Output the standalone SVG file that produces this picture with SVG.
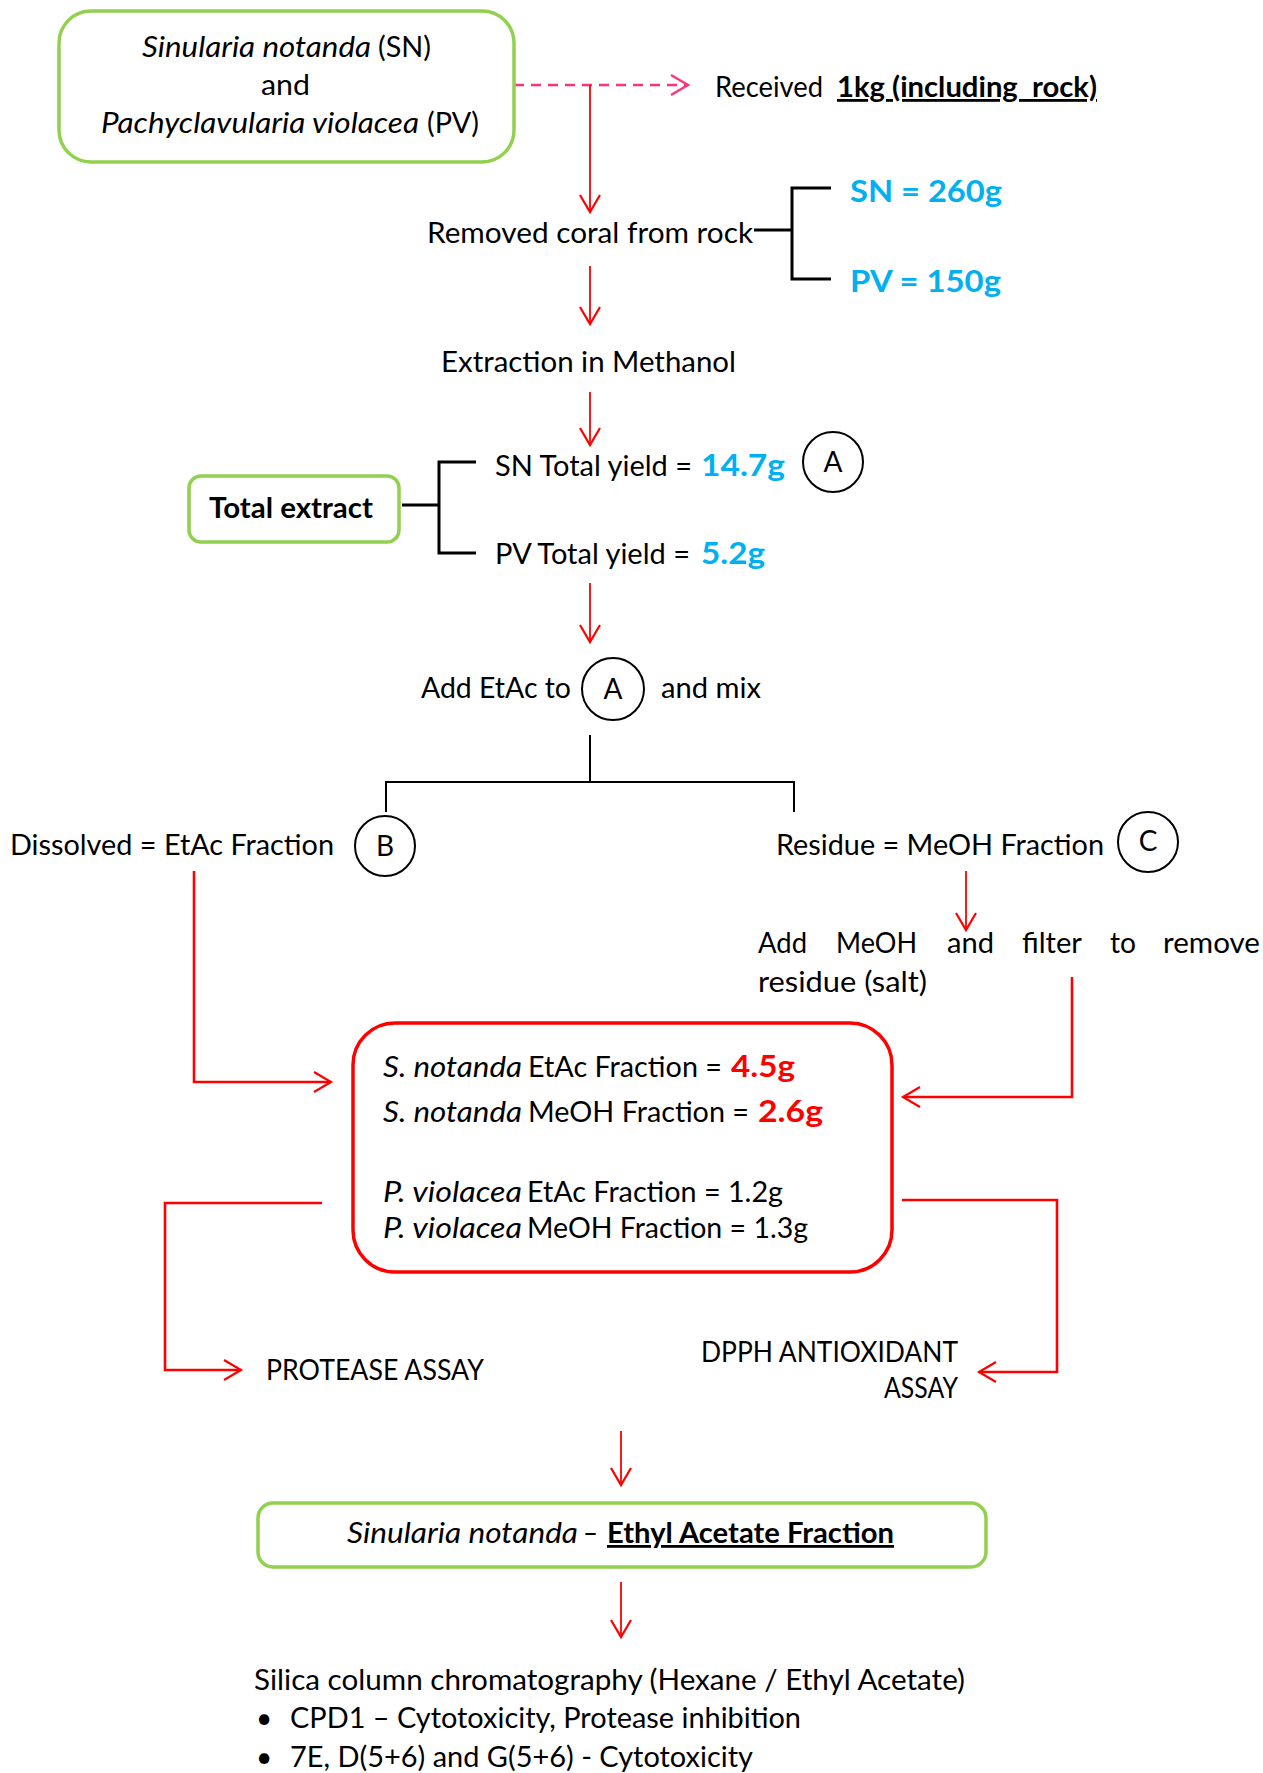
<svg xmlns="http://www.w3.org/2000/svg" width="1263" height="1773" viewBox="0 0 1263 1773">
  <style>
    .t { font-family: Lato, "Liberation Sans", sans-serif; font-size: 28px; fill: #000; }
    .i { font-style: italic; }
    .b { font-weight: bold; }
    .num { font-size: 30px; font-weight: bold; }
    .cy { fill: #00B0F0; }
    .rd { fill: #FF0000; }
    .u { text-decoration: underline; }
    .mid { text-anchor: middle; }
    .gbox { fill: #fff; stroke: #92D050; stroke-width: 3.5; }
    .rbox { fill: #fff; stroke: #FF0000; stroke-width: 3.5; }
    .circ { fill: none; stroke: #000; stroke-width: 2; }
    .flow { fill: none; stroke: #FF0000; stroke-width: 1.8; marker-end: url(#ah); }
    .link { fill: none; stroke: #FF0000; stroke-width: 2.6; marker-end: url(#ah); }
    .brk { fill: none; stroke: #000; stroke-width: 3; }
    .tree { fill: none; stroke: #000; stroke-width: 2; }
    .dash { fill: none; stroke: #FF3377; stroke-width: 2.5; stroke-dasharray: 10 7; marker-end: url(#ahp); }
  </style>
  <defs>
    <marker id="ah" markerUnits="userSpaceOnUse" markerWidth="22" markerHeight="24" viewBox="0 0 22 24" refX="19" refY="12" orient="auto">
      <path d="M2,2 L19,12 L2,22" fill="none" stroke="#FF0000" stroke-width="2.2"/>
    </marker>
    <marker id="ahp" markerUnits="userSpaceOnUse" markerWidth="22" markerHeight="24" viewBox="0 0 22 24" refX="19" refY="12" orient="auto">
      <path d="M2,2 L19,12 L2,22" fill="none" stroke="#FF3377" stroke-width="2.4"/>
    </marker>
  </defs>
  <rect width="1263" height="1773" fill="#fff"/>

  <!-- connectors -->
  <g id="connectors">
    <path class="dash" d="M514,85 H688"/>
    <path class="flow" d="M590,85 V212"/>
    <path class="flow" d="M590,266 V324"/>
    <path class="flow" d="M590,392 V445"/>
    <path class="flow" d="M590,583 V642"/>
    <!-- split after mixing -->
    <path class="tree" d="M590,735 V782 M386,812 V782 H794 V812"/>
    <!-- coral split -->
    <path class="brk" d="M754,230 H792 M831,188 H792 V279 H831"/>
    <!-- total extract split -->
    <path class="brk" d="M402,505 H439 M476,462 H439 V553 H476"/>
    <path class="flow" d="M966,871 V930"/>
    <path class="link" d="M194,871 V1082 H331"/>
    <path class="link" d="M1072,977 V1097 H903"/>
    <path class="link" d="M322,1203 H165 V1370 H241"/>
    <path class="link" d="M902,1200 H1057 V1372 H979"/>
    <path class="flow" d="M621,1431 V1485"/>
    <path class="flow" d="M621,1582 V1637"/>
  </g>

  <!-- source material -->
  <g id="source">
    <rect class="gbox" x="59" y="11" width="455" height="151" rx="32"/>
    <text class="t i" x="142" y="57" textLength="229" lengthAdjust="spacingAndGlyphs">Sinularia notanda</text>
    <text class="t" x="378" y="57" textLength="53" lengthAdjust="spacingAndGlyphs">(SN)</text>
    <text class="t" x="261" y="95" textLength="49" lengthAdjust="spacingAndGlyphs">and</text>
    <text class="t i" x="101" y="133" textLength="318" lengthAdjust="spacingAndGlyphs">Pachyclavularia violacea</text>
    <text class="t" x="427" y="133" textLength="52" lengthAdjust="spacingAndGlyphs">(PV)</text>
  </g>

  <g id="received">
    <text class="t" x="715" y="97" textLength="108" lengthAdjust="spacingAndGlyphs">Received</text>
    <text class="t b u" x="837" y="97" textLength="260" lengthAdjust="spacingAndGlyphs" xml:space="preserve">1kg (including  rock)</text>
  </g>

  <g id="removed">
    <text class="t" x="427" y="243" textLength="326" lengthAdjust="spacingAndGlyphs">Removed coral from rock</text>
  </g>

  <g id="coral-weights">
    <text class="t num cy" x="850" y="202" textLength="152" lengthAdjust="spacingAndGlyphs">SN = 260g</text>
    <text class="t num cy" x="850" y="292" textLength="151" lengthAdjust="spacingAndGlyphs">PV = 150g</text>
  </g>

  <g id="extraction">
    <text class="t" x="441" y="372" textLength="295" lengthAdjust="spacingAndGlyphs">Extraction in Methanol</text>
  </g>

  <g id="total-extract">
    <rect class="gbox" x="189" y="476" width="210" height="66" rx="12"/>
    <text class="t b" x="209" y="518" textLength="164" lengthAdjust="spacingAndGlyphs">Total extract</text>
  </g>

  <g id="yields">
    <text class="t" x="495" y="476" textLength="197" lengthAdjust="spacingAndGlyphs">SN Total yield =</text>
    <text class="t num cy" x="701" y="476" textLength="84" lengthAdjust="spacingAndGlyphs">14.7g</text>
    <circle class="circ" cx="833" cy="462" r="30"/>
    <text class="t mid" x="833" y="472">A</text>
    <text class="t" x="495" y="564" textLength="195" lengthAdjust="spacingAndGlyphs">PV Total yield =</text>
    <text class="t num cy" x="701" y="564" textLength="64" lengthAdjust="spacingAndGlyphs">5.2g</text>
  </g>

  <g id="add-etac">
    <text class="t" x="421" y="698" textLength="150" lengthAdjust="spacingAndGlyphs">Add EtAc to</text>
    <circle class="circ" cx="613" cy="689" r="31"/>
    <text class="t mid" x="613" y="699">A</text>
    <text class="t" x="661" y="698" textLength="100" lengthAdjust="spacingAndGlyphs">and mix</text>
  </g>

  <g id="etac-fraction">
    <text class="t" x="10" y="855" textLength="324" lengthAdjust="spacingAndGlyphs">Dissolved = EtAc Fraction</text>
    <circle class="circ" cx="385" cy="846" r="30"/>
    <text class="t mid" x="385" y="856">B</text>
  </g>

  <g id="meoh-fraction">
    <text class="t" x="776" y="855" textLength="328" lengthAdjust="spacingAndGlyphs">Residue = MeOH Fraction</text>
    <circle class="circ" cx="1148" cy="842" r="30"/>
    <text class="t mid" x="1148" y="851">C</text>
  </g>

  <g id="filter">
    <text class="t" x="758" y="953" textLength="49" lengthAdjust="spacingAndGlyphs">Add</text>
    <text class="t" x="836" y="953" textLength="81" lengthAdjust="spacingAndGlyphs">MeOH</text>
    <text class="t" x="947" y="953" textLength="47" lengthAdjust="spacingAndGlyphs">and</text>
    <text class="t" x="1022" y="953" textLength="60" lengthAdjust="spacingAndGlyphs">filter</text>
    <text class="t" x="1110" y="953" textLength="26" lengthAdjust="spacingAndGlyphs">to</text>
    <text class="t" x="1163" y="953" textLength="97" lengthAdjust="spacingAndGlyphs">remove</text>
    <text class="t" x="758" y="992" textLength="169" lengthAdjust="spacingAndGlyphs">residue (salt)</text>
  </g>

  <g id="fractions">
    <rect class="rbox" x="353" y="1023" width="539" height="249" rx="42"/>
    <text class="t i" x="383" y="1077" textLength="139" lengthAdjust="spacingAndGlyphs">S. notanda</text>
    <text class="t" x="528" y="1077" textLength="194" lengthAdjust="spacingAndGlyphs">EtAc Fraction =</text>
    <text class="t num rd" x="731" y="1077" textLength="64" lengthAdjust="spacingAndGlyphs">4.5g</text>
    <text class="t i" x="383" y="1122" textLength="139" lengthAdjust="spacingAndGlyphs">S. notanda</text>
    <text class="t" x="528" y="1122" textLength="221" lengthAdjust="spacingAndGlyphs">MeOH Fraction =</text>
    <text class="t num rd" x="758" y="1122" textLength="65" lengthAdjust="spacingAndGlyphs">2.6g</text>
    <text class="t i" x="383" y="1202" textLength="139" lengthAdjust="spacingAndGlyphs">P. violacea</text>
    <text class="t" x="527" y="1202" textLength="256" lengthAdjust="spacingAndGlyphs">EtAc Fraction = 1.2g</text>
    <text class="t i" x="383" y="1238" textLength="139" lengthAdjust="spacingAndGlyphs">P. violacea</text>
    <text class="t" x="527" y="1238" textLength="281" lengthAdjust="spacingAndGlyphs">MeOH Fraction = 1.3g</text>
  </g>

  <g id="protease">
    <text class="t" x="266" y="1380" textLength="218" lengthAdjust="spacingAndGlyphs">PROTEASE ASSAY</text>
  </g>

  <g id="dpph">
    <text class="t" x="701" y="1362" textLength="257" lengthAdjust="spacingAndGlyphs">DPPH ANTIOXIDANT</text>
    <text class="t" x="884" y="1398" textLength="74" lengthAdjust="spacingAndGlyphs">ASSAY</text>
  </g>

  <g id="ethyl-acetate-fraction">
    <rect class="gbox" x="258" y="1503" width="728" height="64" rx="15"/>
    <text class="t i" x="347" y="1543" textLength="231" lengthAdjust="spacingAndGlyphs">Sinularia notanda</text>
    <text class="t" x="583" y="1543" textLength="15" lengthAdjust="spacingAndGlyphs">–</text>
    <text class="t b u" x="607" y="1543" textLength="287" lengthAdjust="spacingAndGlyphs">Ethyl Acetate Fraction</text>
  </g>

  <g id="chromatography">
    <text class="t" x="254" y="1690" textLength="711" lengthAdjust="spacingAndGlyphs">Silica column chromatography (Hexane / Ethyl Acetate)</text>
    <text class="t" x="256" y="1728">•</text>
    <text class="t" x="290" y="1728" textLength="511" lengthAdjust="spacingAndGlyphs">CPD1 – Cytotoxicity, Protease inhibition</text>
    <text class="t" x="256" y="1767">•</text>
    <text class="t" x="290" y="1767" textLength="463" lengthAdjust="spacingAndGlyphs">7E, D(5+6) and G(5+6) - Cytotoxicity</text>
  </g>
</svg>
